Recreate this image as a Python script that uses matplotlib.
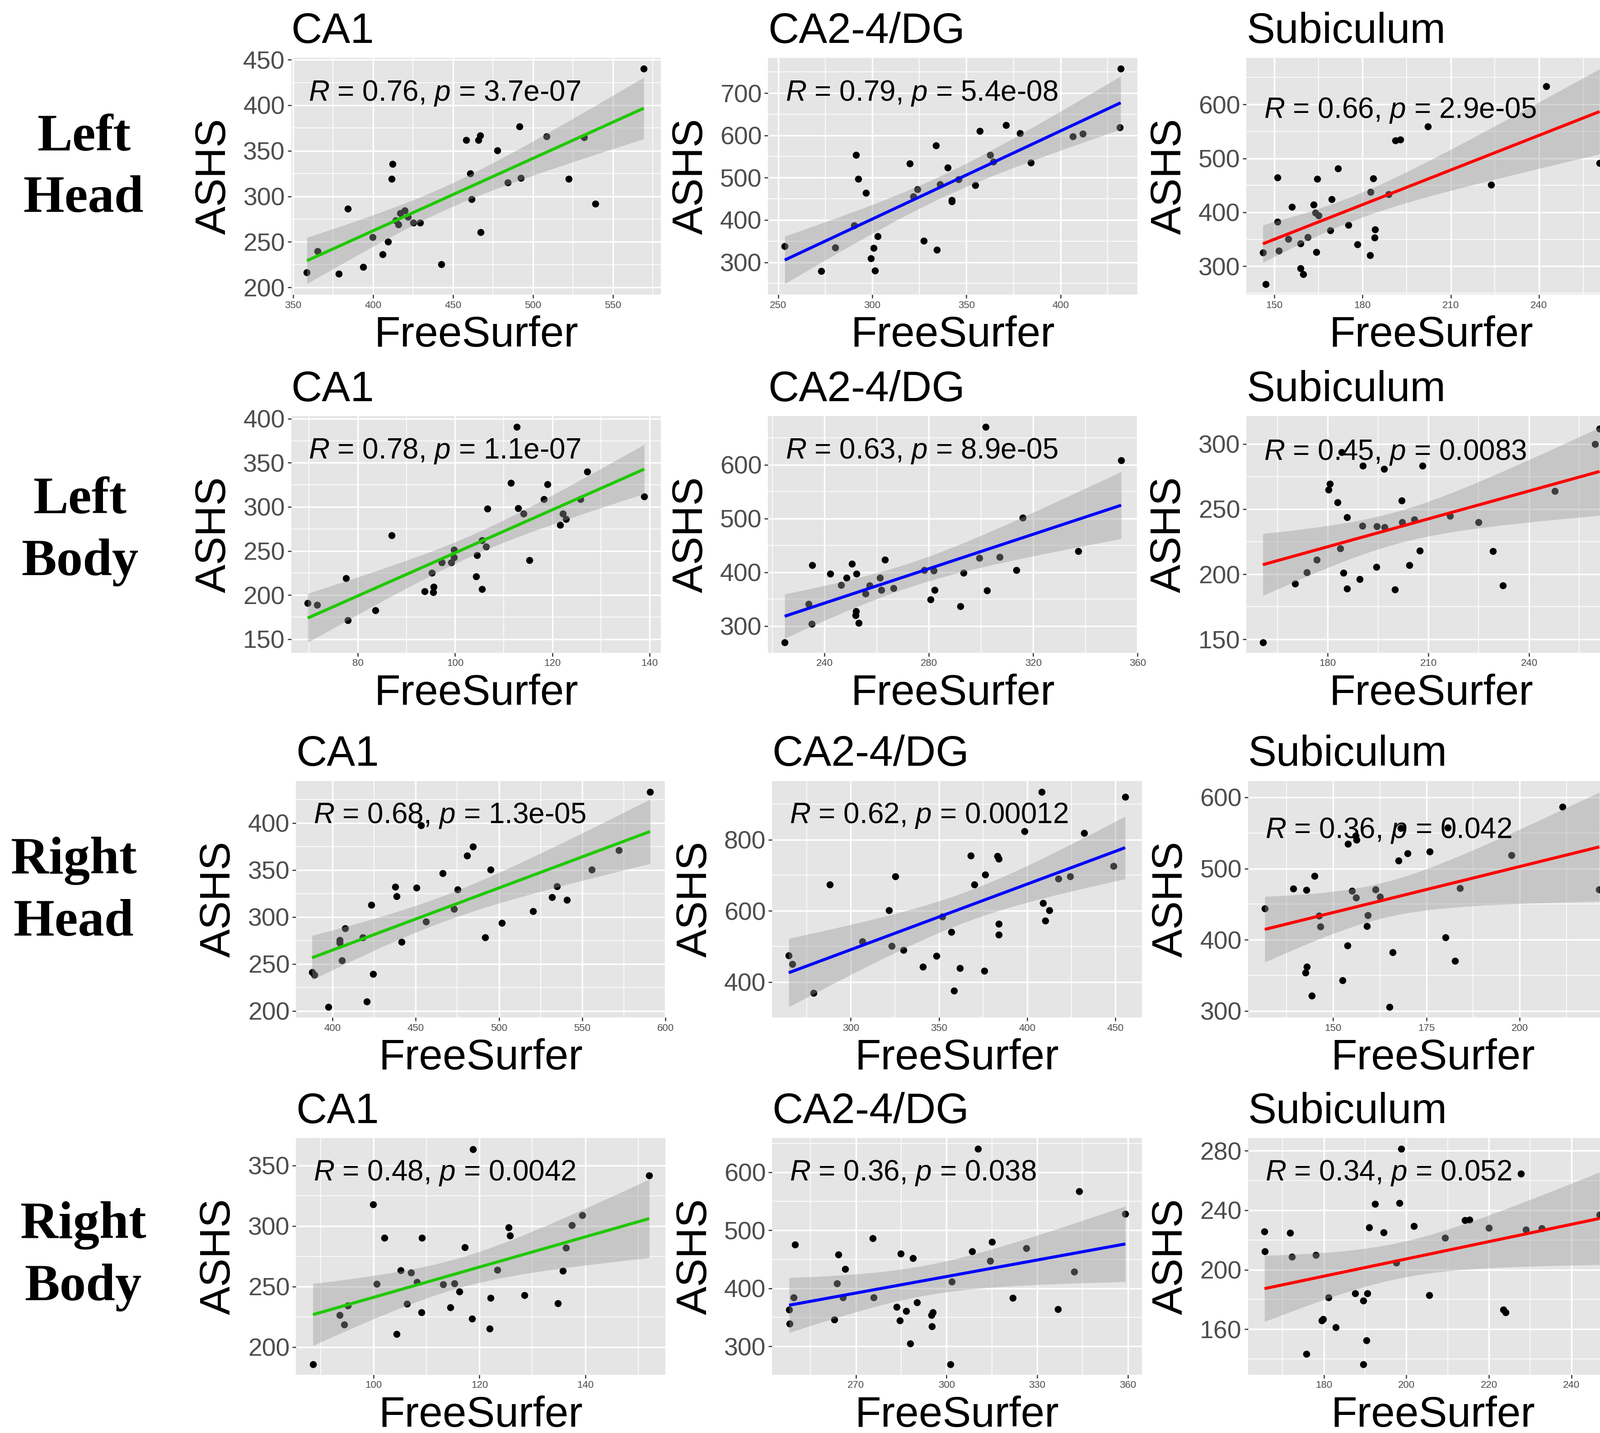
import numpy as np
import matplotlib
matplotlib.use('Agg')
import matplotlib.pyplot as plt
from matplotlib.ticker import MultipleLocator, FixedLocator

plt.rcParams['font.family'] = ['Liberation Sans', 'DejaVu Sans']
plt.rcParams['mathtext.fontset'] = 'custom'
plt.rcParams['mathtext.rm'] = 'Liberation Sans'
plt.rcParams['mathtext.it'] = 'Liberation Sans:italic'

row_names = ['Left\nHead', 'Left\nBody', 'Right\nHead', 'Right\nBody']
regions = ['CA1', 'CA2-4/DG', 'Subiculum']
line_colors = ['#20C800', '#0000FF', '#FF0000']

# ---- data: FreeSurfer (x) vs ASHS (y)
lh_ca1_x = [569.3, 491.5, 508.5, 532.0, 467.1, 466.0, 458.2, 477.7, 412.2, 411.6, 460.9,
            492.4, 522.3, 484.2, 461.7, 539.1, 384.2, 419.9, 417.1, 421.7, 414.2, 416.0,
            425.3, 429.4, 467.2, 399.8, 409.5, 365.5, 406.0, 442.7, 394.0, 358.7, 378.6]
lh_ca1_y = [440.1, 376.9, 365.8, 364.7, 366.7, 361.9, 361.9, 350.4, 335.3, 319.2, 325.3,
            320.1, 319.2, 315.4, 296.9, 291.8, 286.3, 284.6, 281.7, 277.3, 273.6, 269.2,
            271.1, 271.1, 260.6, 255.1, 250.2, 239.7, 236.3, 225.6, 222.7, 216.3, 214.8]

lh_dg_x = [431.9, 431.5, 370.9, 357.2, 378.4, 406.6, 411.9, 333.9, 291.4, 362.6, 364.3,
           384.3, 319.8, 340.1, 292.5, 345.8, 335.9, 354.8, 324.0, 296.6, 321.7, 342.2,
           342.2, 290.5, 302.9, 327.3, 253.5, 280.4, 300.7, 334.2, 299.2, 272.8, 301.5]
lh_dg_y = [757.6, 618.7, 623.9, 610.8, 605.3, 597.4, 603.7, 576.5, 553.3, 553.7, 537.5,
           535.5, 533.9, 523.7, 497.2, 496.4, 484.6, 482.2, 472.8, 464.5, 455.8, 446.4,
           443.6, 387.6, 361.9, 350.9, 338.3, 335.1, 333.9, 329.6, 309.1, 279.5, 279.9]

lh_sub_x = [242.4, 202.3, 191.2, 192.9, 260.6, 171.7, 151.0, 164.6, 183.7, 223.7, 182.7,
            188.8, 169.5, 163.3, 156.0, 163.9, 165.1, 151.0, 175.2, 184.3, 169.0, 184.1,
            161.4, 154.7, 158.9, 178.2, 146.1, 151.5, 164.3, 182.5, 158.9, 159.8, 147.0]
lh_sub_y = [633.7, 559.5, 532.9, 534.4, 491.1, 481.2, 464.5, 461.7, 462.9, 450.9, 437.9,
            433.9, 424.0, 414.4, 409.8, 398.9, 394.3, 382.6, 376.7, 368.0, 366.5, 353.5,
            354.1, 350.7, 342.0, 340.5, 325.3, 328.4, 325.9, 320.1, 296.3, 285.4, 267.2]

lb_ca1_x = [112.7, 127.2, 111.5, 119.0, 118.3, 125.8, 138.9, 106.6, 113.0, 114.1, 122.2,
            122.8, 121.6, 87.0, 105.5, 106.4, 99.8, 104.5, 99.8, 115.3, 97.3, 99.2,
            95.2, 77.6, 104.3, 95.6, 93.7, 95.5, 105.5, 69.7, 71.6, 83.6, 77.9]
lb_ca1_y = [390.6, 340.2, 326.9, 325.7, 308.8, 308.8, 311.6, 297.8, 298.2, 292.4, 292.2,
            286.3, 279.6, 267.6, 262.0, 254.9, 251.4, 245.1, 242.4, 239.6, 236.7, 236.7,
            225.1, 218.8, 221.0, 209.2, 204.3, 202.9, 206.7, 190.8, 189.0, 182.4, 171.6]

lb_dg_x = [301.7, 353.7, 316.0, 337.3, 299.4, 307.2, 263.1, 235.3, 250.4, 242.1, 252.3,
           248.4, 261.3, 278.2, 281.9, 313.5, 293.2, 246.4, 257.2, 261.7, 266.5, 282.2,
           302.3, 255.7, 233.8, 280.7, 292.1, 252.1, 251.8, 235.1, 253.0, 224.7]
lb_dg_y = [670.0, 608.4, 501.4, 439.1, 426.5, 428.8, 423.3, 413.4, 415.6, 397.6, 397.3,
           390.2, 390.2, 403.7, 403.4, 404.0, 399.2, 376.7, 375.5, 367.4, 370.3, 367.4,
           366.5, 360.0, 341.4, 349.4, 336.9, 327.3, 320.2, 303.8, 305.7, 269.8]

lb_sub_x = [261.0, 259.6, 184.2, 190.5, 196.8, 208.2, 180.6, 180.2, 183.0, 202.0, 247.7,
            185.8, 216.5, 205.8, 202.2, 225.0, 190.3, 194.6, 197.0, 183.8, 207.4, 229.2,
            176.8, 204.4, 194.5, 173.8, 184.7, 189.5, 170.3, 232.2, 185.8, 200.1, 160.7]
lb_sub_y = [311.9, 300.1, 293.8, 283.4, 280.9, 283.4, 269.3, 264.8, 255.1, 256.5, 263.8,
            243.7, 244.8, 241.9, 240.0, 240.0, 237.2, 236.8, 236.0, 219.8, 218.0, 217.7,
            211.2, 207.1, 205.6, 201.5, 201.1, 196.1, 192.6, 191.5, 188.8, 188.1, 147.6]

rh_ca1_x = [590.7, 453.3, 484.3, 481.0, 572.0, 466.3, 494.9, 555.8, 437.9, 450.6, 475.3,
            534.8, 438.5, 531.7, 540.9, 423.4, 472.9, 520.4, 456.1, 501.8, 407.7, 418.3,
            404.3, 404.3, 441.6, 491.7, 405.7, 387.8, 389.3, 424.4, 420.6, 397.7]
rh_ca1_y = [433.0, 397.6, 374.7, 365.0, 371.1, 346.2, 350.2, 350.4, 332.0, 331.2, 329.2,
            332.5, 322.0, 320.7, 318.2, 312.8, 308.2, 305.8, 294.9, 293.5, 287.7, 278.3,
            275.4, 272.3, 273.4, 278.2, 253.8, 241.3, 238.3, 239.4, 209.8, 204.1]

rh_dg_x = [408.3, 455.5, 398.4, 432.2, 368.0, 383.2, 383.9, 448.9, 325.3, 376.3, 424.3,
           288.2, 370.1, 417.7, 408.9, 412.5, 410.2, 321.6, 352.0, 383.8, 356.9, 383.8,
           306.5, 323.3, 329.9, 348.6, 264.9, 266.8, 340.9, 361.9, 375.6, 279.0, 358.6]
rh_dg_y = [935.0, 920.3, 824.4, 818.5, 754.7, 753.7, 746.4, 726.4, 696.7, 702.1, 696.7,
           673.3, 673.3, 690.9, 621.2, 601.2, 572.5, 601.7, 584.2, 563.2, 539.8, 532.5,
           514.0, 500.9, 489.7, 473.6, 474.5, 450.2, 442.9, 439.0, 431.7, 368.8, 374.7]

rh_sub_x = [211.5, 168.1, 180.7, 156.0, 156.3, 154.0, 175.9, 170.0, 167.5, 197.8, 145.0,
            139.3, 142.8, 155.0, 161.4, 156.1, 162.6, 184.0, 221.3, 131.7, 146.2, 159.3,
            146.6, 159.1, 180.1, 153.9, 165.9, 182.7, 143.0, 142.6, 152.5, 144.3, 165.1]
rh_sub_y = [586.9, 556.7, 557.2, 546.3, 540.2, 534.8, 524.1, 521.0, 511.3, 519.0, 489.6,
            471.6, 470.2, 468.5, 470.4, 459.2, 460.4, 472.6, 470.4, 444.2, 433.7, 434.7,
            418.6, 419.3, 403.3, 391.9, 382.6, 370.5, 361.9, 353.7, 343.0, 321.4, 305.8]

rb_ca1_x = [118.8, 152.1, 99.9, 139.4, 137.5, 125.5, 125.8, 102.0, 109.1, 117.2, 136.4,
            105.1, 107.1, 123.4, 135.8, 100.6, 108.2, 113.1, 115.3, 116.2, 128.5, 122.1,
            95.1, 106.3, 134.8, 114.5, 93.6, 109.0, 118.6, 94.4, 121.9, 104.3, 88.5]
rb_ca1_y = [363.3, 341.8, 317.8, 308.8, 300.5, 298.8, 291.9, 290.2, 290.2, 282.4, 281.8,
            263.2, 261.3, 263.5, 262.8, 252.0, 253.5, 251.8, 252.6, 245.8, 242.7, 240.7,
            234.3, 235.7, 235.9, 232.6, 226.4, 228.5, 223.3, 218.7, 215.0, 210.7, 185.8]

rb_dg_x = [310.4, 343.9, 359.2, 275.6, 249.8, 315.0, 308.4, 326.4, 264.2, 284.8, 288.9,
           314.5, 266.5, 342.2, 301.8, 263.7, 249.4, 265.7, 275.9, 321.9, 290.3, 283.5,
           286.7, 247.9, 295.4, 295.0, 336.9, 262.9, 284.5, 248.0, 295.1, 288.0, 301.3]
rb_dg_y = [640.0, 566.9, 528.1, 486.4, 475.6, 480.4, 463.7, 468.8, 458.6, 460.1, 452.4,
           447.6, 433.3, 428.5, 411.5, 408.8, 384.1, 384.7, 384.1, 383.5, 376.0, 367.7,
           361.1, 363.2, 359.0, 354.3, 364.1, 346.2, 344.4, 339.3, 334.9, 305.0, 269.3]

rb_sub_x = [198.7, 227.8, 192.4, 198.3, 214.2, 215.3, 246.8, 191.0, 201.8, 220.0, 229.0,
            232.8, 165.6, 171.8, 194.5, 209.4, 165.7, 172.3, 178.0, 197.5, 187.6, 190.5,
            205.5, 181.1, 189.6, 223.5, 224.1, 179.5, 179.8, 182.9, 190.3, 175.7, 189.5]
rb_sub_y = [281.2, 264.7, 244.2, 244.9, 233.4, 233.7, 236.9, 228.5, 229.2, 228.2, 227.0,
            227.7, 225.6, 224.9, 225.0, 221.5, 212.4, 208.7, 210.0, 204.6, 184.2, 184.2,
            182.9, 181.4, 179.1, 173.2, 171.2, 165.9, 166.7, 161.2, 152.4, 143.2, 136.5]

xs = [[lh_ca1_x, lh_dg_x, lh_sub_x], [lb_ca1_x, lb_dg_x, lb_sub_x],
      [rh_ca1_x, rh_dg_x, rh_sub_x], [rb_ca1_x, rb_dg_x, rb_sub_x]]
ys = [[lh_ca1_y, lh_dg_y, lh_sub_y], [lb_ca1_y, lb_dg_y, lb_sub_y],
      [rh_ca1_y, rh_dg_y, rh_sub_y], [rb_ca1_y, rb_dg_y, rb_sub_y]]

r_vals = [['0.76', '0.79', '0.66'], ['0.78', '0.63', '0.45'],
          ['0.68', '0.62', '0.36'], ['0.48', '0.36', '0.34']]
p_vals = [['3.7e-07', '5.4e-08', '2.9e-05'], ['1.1e-07', '8.9e-05', '0.0083'],
          ['1.3e-05', '0.00012', '0.042'], ['0.0042', '0.038', '0.052']]

# axis settings
xlims = [[(348.9, 579.9), (244.6, 440.9), (140.5, 266.2)],
         [(66.3, 142.3), (218.3, 360.0), (155.8, 265.9)],
         [(378.2, 600.0), (255.5, 464.9), (127.2, 226.2)],
         [(85.3, 155.2), (242.3, 364.6), (161.6, 251.2)]]
ylims = [[(192.3, 451.8), (223.9, 782.8), (247.7, 686.0)],
         [(134.7, 402.9), (250.8, 690.3), (139.8, 321.4)],
         [(193.0, 444.6), (300.1, 965.2), (291.0, 622.9)],
         [(177.3, 372.5), (251.7, 658.8), (129.5, 288.5)]]
xsteps = [[50, 50, 30], [20, 40, 30], [50, 50, 25], [20, 30, 20]]
ysteps = [[50, 100, 100], [50, 100, 50], [50, 200, 100], [50, 100, 40]]
stat_y = [[0.82, 0.82, 0.746], [0.821, 0.821, 0.815],
          [0.822, 0.822, 0.759], [0.82, 0.82, 0.82]]


def tq975(df):
    z = 1.959964
    return z + (z**3 + z) / (4 * df) + (5 * z**5 + 16 * z**3 + 3 * z) / (96 * df**2)


fig = plt.figure(figsize=(35.42, 31.72), dpi=100)
row_bottom = [0.7945, 0.5446, 0.290, 0.0408]
col_left = [[0.182, 0.480, 0.779], [0.182, 0.480, 0.779],
            [0.185, 0.4826, 0.780], [0.185, 0.4826, 0.780]]
row_label_pos = [(0.0523, 0.8824), (0.050, 0.629), (0.046, 0.3776), (0.052, 0.1233)]
W, H = 0.231, 0.165

for i in range(4):
    fig.text(row_label_pos[i][0], row_label_pos[i][1], row_names[i], family='Liberation Serif',
             fontweight='bold', fontsize=84, ha='center', va='center', linespacing=1.38)
    for j in range(3):
        ax = fig.add_axes([col_left[i][j], row_bottom[i], W, H])
        x = np.array(xs[i][j])
        y = np.array(ys[i][j])
        # linear fit with 95% confidence band (like geom_smooth(method='lm'))
        n = len(x)
        b, a = np.polyfit(x, y, 1)
        xx = np.linspace(x.min(), x.max(), 80)
        res = y - (a + b * x)
        s = np.sqrt(np.sum(res**2) / (n - 2))
        se = s * np.sqrt(1.0 / n + (xx - x.mean())**2 / np.sum((x - x.mean())**2))
        yy = a + b * xx
        t = tq975(n - 2)
        ax.scatter(x, y, s=125, color='black', linewidths=0, zorder=2)
        ax.fill_between(xx, yy - t * se, yy + t * se, color='#999999', alpha=0.4,
                        linewidth=0, zorder=3)
        ax.plot(xx, yy, color=line_colors[j], lw=4.8, zorder=4, solid_capstyle='butt')

        x0, x1 = xlims[i][j]
        ax.set_xlim(x0, x1)
        ax.set_ylim(*ylims[i][j])
        step = xsteps[i][j]
        # only keep x ticks whose labels fall inside the visible part of the figure
        vis_right = x0 + (1.0 - col_left[i][j]) / W * (x1 - x0) - 0.1 * step
        ticks = np.arange(np.ceil(x0 / step) * step, min(x1, vis_right) + 1e-9, step)
        ax.xaxis.set_major_locator(FixedLocator(ticks))
        ax.xaxis.set_minor_locator(MultipleLocator(step / 2))
        ax.yaxis.set_major_locator(MultipleLocator(ysteps[i][j]))
        ax.yaxis.set_minor_locator(MultipleLocator(ysteps[i][j] / 2))
        ax.set_facecolor('#E5E5E5')
        ax.set_axisbelow(True)
        ax.grid(which='major', color='white', lw=2.4)
        ax.grid(which='minor', color='white', lw=1.2)
        for sp in ax.spines.values():
            sp.set_visible(False)
        ax.tick_params(which='major', length=6, width=1.8, color='#333333')
        ax.tick_params(which='minor', length=0)
        ax.tick_params(axis='x', labelsize=16, labelcolor='#4D4D4D', pad=4)
        ax.tick_params(axis='y', labelsize=40, labelcolor='#4D4D4D', pad=4)

        ax.set_title(regions[j], loc='left', fontsize=68, pad=24)
        ax.set_xlabel('FreeSurfer', fontsize=68, labelpad=8)
        ax.set_ylabel('ASHS', fontsize=68, labelpad=14)

        label = '$R$ = %s, $p$ = %s' % (r_vals[i][j], p_vals[i][j])
        ax.text(0.047, stat_y[i][j], label, transform=ax.transAxes, fontsize=46,
                ha='left', va='baseline', zorder=5)

fig.savefig('out.png', dpi=100)
